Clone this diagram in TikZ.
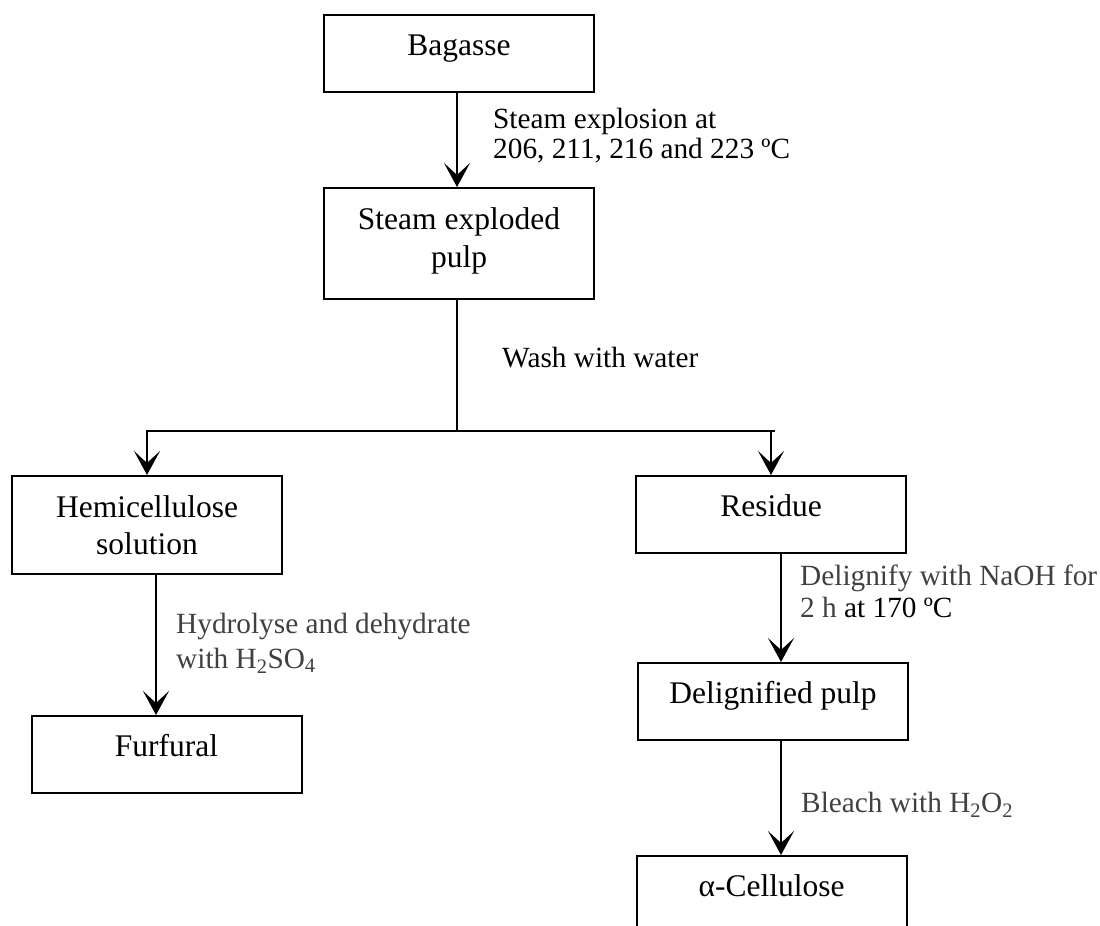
\documentclass[tikz,border=0pt]{standalone}
\usepackage{fontspec}
\setmainfont{Liberation Serif}
\usetikzlibrary{arrows.meta,calc}
\definecolor{labgray}{HTML}{404040}
\begin{document}
\begin{tikzpicture}[x=1pt,y=-1pt,
 box/.style={draw,line width=2pt,inner sep=0pt,minimum width=270pt,align=center,font=\fontsize{31.5}{37.5}\selectfont},
 onebox/.style={box,minimum height=77pt,text height=25pt,text depth=22pt},
 lab/.style={anchor=base west,inner sep=0pt,font=\fontsize{29.3}{33}\selectfont},
 glab/.style={lab,text=labgray},
 conn/.style={line width=2.3pt,line cap=rect},
 arr/.style={line width=2.3pt,-{Stealth[length=24pt,width=26pt,inset=12pt]}}]
\useasboundingbox (0,0) rectangle (1100,926);
\node[onebox,anchor=north] (bag) at (459,14) {Bagasse};
\node[box,anchor=north,minimum height=111pt] (sep) at (459,187) {Steam exploded\\pulp\rule[-12pt]{0pt}{12pt}};
\node[box,anchor=north,minimum height=98pt] (hemi) at (147,475) {Hemicellulose\\solution};
\node[onebox,anchor=north] (furf) at (166.5,715) {Furfural};
\node[onebox,anchor=north] (res) at (771,475) {Residue};
\node[onebox,anchor=north] (delig) at (773,662) {Delignified pulp};
\node[onebox,anchor=north] (alpha) at (771.5,855) {α-Cellulose};
\node[lab] (l1a) at (493,128) {Steam explosion at};
\node[lab] (l1b) at (493,158) {206, 211, 216 and 223 ºC};
\node[lab] (l2) at (502,367) {Wash with water};
\node[glab] (l3a) at (176,633) {Hydrolyse and dehydrate};
\node[glab] (l3b) at (176,668) {with H\textsubscript{2}SO\textsubscript{4}};
\node[glab] (l4a) at (800,585) {Delignify with NaOH for};
\node[glab] (l4b) at (800,617) {2 h \textcolor{black}{at 170 ºC}};
\node[glab] (l5) at (801,812) {Bleach with H\textsubscript{2}O\textsubscript{2}};
\coordinate (bagout) at ($(bag.south)+(-2,0)$);
\draw[arr] (bagout) -- (bagout |- sep.north);
\coordinate (hl) at (0,431);
\coordinate (sepout) at ($(sep.south)+(-2,0)$);
\coordinate (jm) at (sepout |- hl);
\coordinate (jl) at (hemi.north |- hl);
\coordinate (jr) at ($(res.north |- hl)+(3,0)$);
\draw[conn] (sepout) -- (jm);
\draw[conn] (jl) -- (jr);
\draw[arr] (jl) -- (hemi.north);
\coordinate (jrr) at (res.north |- hl);
\draw[arr] (jrr) -- (res.north);
\coordinate (hemiout) at ($(hemi.south)+(9,0)$);
\draw[arr] (hemiout) -- (hemiout |- furf.north);
\coordinate (resout) at ($(res.south)+(10,0)$);
\draw[arr] (resout) -- (resout |- delig.north);
\coordinate (deligout) at ($(delig.south)+(8,0)$);
\draw[arr] (deligout) -- (deligout |- alpha.north);
\end{tikzpicture}
\end{document}
